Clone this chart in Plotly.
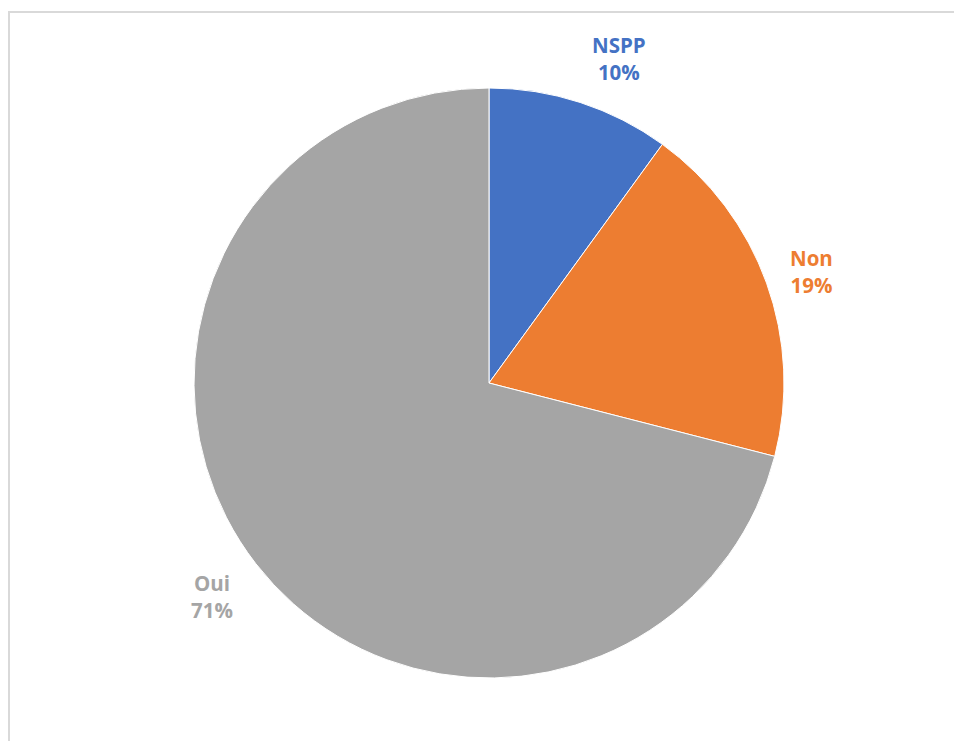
import math
import plotly.graph_objects as go

labels = ["NSPP", "Non", "Oui"]
values = [10, 19, 71]
colors = ["#4472C4", "#ED7D31", "#A5A5A5"]

# page body has an 8px margin; keep the figure inside the viewport
W, H = 954, 733
cx, cy, R = 481, 375, 295
label_dist = 318

fig = go.Figure(go.Pie(
    labels=labels, values=values, sort=False, direction="clockwise", rotation=0,
    marker=dict(colors=colors, line=dict(color="white", width=1)),
    textinfo="none", hoverinfo="label+percent", showlegend=False,
    domain=dict(x=[(cx - R) / W, (cx + R) / W], y=[(H - cy - R) / H, (H - cy + R) / H]),
))

total = sum(values)
cum = 0
annotations = []
for lab, v, c in zip(labels, values, colors):
    mid = (cum + v / 2) / total * 2 * math.pi
    cum += v
    s, co = math.sin(mid), math.cos(mid)
    px = cx + label_dist * s
    py = cy - label_dist * co
    xa = "left" if s > 0.1 else ("right" if s < -0.1 else "center")
    ya = "bottom" if co > 0.5 else ("top" if co < -0.5 else "middle")
    ysh = {"bottom": -7, "top": 11, "middle": 4}[ya]
    annotations.append(dict(
        x=px / W, y=1 - py / H, xref="paper", yref="paper",
        text=f"<b>{lab}<br>{round(v / total * 100)}%</b>", showarrow=False,
        font=dict(family="Open Sans", size=20.5, color=c),
        xanchor=xa, yanchor=ya, align="center", yshift=ysh,
        xshift=-3 if xa == "right" else (3 if ya == "bottom" else 0),
    ))

frame = dict(color="#D9D9D9", width=2)
fig.update_layout(
    width=W, height=H, margin=dict(l=0, r=0, t=0, b=0),
    paper_bgcolor="white", plot_bgcolor="white",
    annotations=annotations,
    shapes=[
        dict(type="line", xref="paper", yref="paper",
             x0=1 / W, x1=1 / W, y0=0, y1=1 - 3 / H, line=frame),
        dict(type="line", xref="paper", yref="paper",
             x0=0, x1=1, y0=1 - 4 / H, y1=1 - 4 / H, line=frame),
    ],
)

fig.write_html("out.html")
